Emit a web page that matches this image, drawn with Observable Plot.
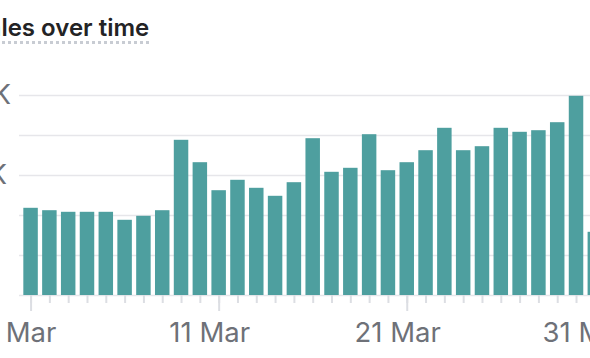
<!DOCTYPE html>
<html><head><meta charset="utf-8">
<script src="https://cdn.jsdelivr.net/npm/d3@7"></script>
<script src="https://cdn.jsdelivr.net/npm/@observablehq/plot@0.6"></script>
<style>
html,body{margin:0;padding:0;width:590px;height:358px;overflow:hidden;background:#fff;}
#wrap{position:relative;width:590px;height:358px;overflow:hidden;}
#title{position:absolute;left:-28px;top:16px;font-family:Inter,sans-serif;font-weight:600;font-size:24px;line-height:24px;color:#232325;padding-bottom:1px;border-bottom:3px dotted #c8ccd3;white-space:nowrap;}
#chart{position:absolute;left:-60px;top:60px;width:680px;height:298px;}
#chart svg{max-width:none;}
</style></head><body>
<div id="wrap"><div id="title">Sales over time</div><div id="chart"></div></div>
<script>
const dates = ["2024-03-01","2024-03-02","2024-03-03","2024-03-04","2024-03-05","2024-03-06","2024-03-07","2024-03-08","2024-03-09","2024-03-10","2024-03-11","2024-03-12","2024-03-13","2024-03-14","2024-03-15","2024-03-16","2024-03-17","2024-03-18","2024-03-19","2024-03-20","2024-03-21","2024-03-22","2024-03-23","2024-03-24","2024-03-25","2024-03-26","2024-03-27","2024-03-28","2024-03-29","2024-03-30","2024-03-31"];
const sales = [1090,1060,1040,1040,1040,940,990,1060,1940,1660,1310,1440,1340,1240,1410,1960,1540,1590,2010,1560,1660,1810,2090,1810,1860,2090,2040,2060,2160,2490,790];
const yTicks = [0,500,1000,1500,2000,2500];
const majorDates = ["2024-03-01","2024-03-11","2024-03-21","2024-03-31"];

const data = dates.map((d, i) => ({date: d, sales: sales[i]}));
const fmtDate = d => `${+d.slice(8)} Mar`;
const fmtY = v => (v / 1000) + "K";
const grey = "#6e7178";
const tickGrey = "#dcdee3";

const plot = Plot.plot({
  width: 680, height: 298,
  marginLeft: 79, marginRight: 13.6, marginTop: 35, marginBottom: 63,
  style: {fontFamily: "Inter, sans-serif", fontSize: "27.5px", color: grey, background: "transparent", maxWidth: "none"},
  x: {type: "band", domain: dates, padding: 0.23, round: false, label: null},
  y: {domain: [0, 2500], label: null},
  marks: [
    Plot.gridY(yTicks, {stroke: "#e6e6ea", strokeOpacity: 1, strokeWidth: 1.5}),
    Plot.axisY([2500], {tickSize: 0, tickPadding: 70, textAnchor: "start", tickFormat: fmtY, fill: grey, label: null}),
    Plot.axisY([1500], {tickSize: 0, tickPadding: 74, textAnchor: "start", tickFormat: fmtY, fill: grey, label: null}),
    Plot.barY(data, {x: "date", y: "sales", fill: "#4e9f9f"}),
    Plot.axisX(dates, {tickSize: 8, fill: "none", stroke: tickGrey, strokeWidth: 2, label: null}),
    Plot.axisX(majorDates, {tickSize: 16, fill: "none", stroke: tickGrey, strokeWidth: 2, label: null}),
    Plot.axisX(majorDates, {tickSize: 0, tickPadding: 26.5, tickFormat: fmtDate, dx: -9.5, fill: grey, label: null})
  ]
});
document.getElementById("chart").appendChild(plot);
</script>
</body></html>
